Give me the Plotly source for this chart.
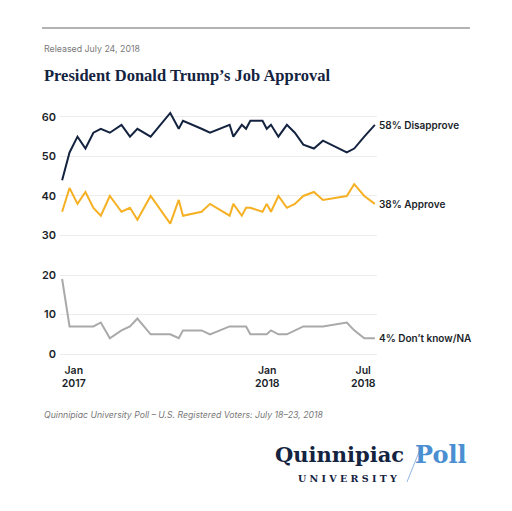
import plotly.graph_objects as go

# poll dates as placed on the chart's time axis
dates = [
    "2016-12-10", "2016-12-24", "2017-01-08", "2017-01-23", "2017-02-07",
    "2017-02-21", "2017-03-10", "2017-04-01", "2017-04-17", "2017-05-01",
    "2017-05-26", "2017-07-02", "2017-07-18", "2017-07-26", "2017-08-30",
    "2017-09-15", "2017-10-22", "2017-10-29", "2017-11-14", "2017-11-22",
    "2017-11-30", "2017-12-23", "2017-12-31", "2018-01-08", "2018-01-22",
    "2018-02-07", "2018-02-22", "2018-03-10", "2018-03-30", "2018-04-16",
    "2018-05-31", "2018-06-14", "2018-07-03", "2018-07-23",
]
disapprove = [44, 51, 55, 52, 56, 57, 56, 58, 55, 57, 55, 61, 57, 59, 57, 56, 58,
              55, 58, 57, 59, 59, 57, 58, 55, 58, 56, 53, 52, 54, 51, 52, 55, 58]
approve = [36, 42, 38, 41, 37, 35, 40, 36, 37, 34, 40, 33, 39, 35, 36, 38, 35,
           38, 35, 37, 37, 36, 38, 36, 40, 37, 38, 40, 41, 39, 40, 43, 40, 38]
dont_know = [19, 7, 7, 7, 7, 8, 4, 6, 7, 9, 5, 5, 4, 6, 6, 5, 7,
             7, 7, 7, 5, 5, 5, 6, 5, 5, 6, 7, 7, 7, 8, 6, 4, 4]

tick_dates = ["2017-01-01", "2018-01-01", "2018-07-01"]
tick_text = ["Jan<br>2017", "Jan<br>2018", "Jul<br>2018"]

NAVY = "#14233f"
GOLD = "#f6b023"
GREY = "#a9a9a9"

series = [
    ("58% Disapprove", disapprove, NAVY),
    ("38% Approve", approve, GOLD),
    ("4% Don\u2019t know/NA", dont_know, GREY),
]

fig = go.Figure()
for name, vals, color in series:
    fig.add_trace(go.Scatter(x=dates, y=vals, mode="lines", name=name,
                             line=dict(color=color, width=2), cliponaxis=False))

annotations = []
for name, vals, color in series:
    annotations.append(dict(x=dates[-1], y=vals[-1], xref="x", yref="y", text=name,
                            showarrow=False, xanchor="left", yanchor="middle", xshift=2,
                            font=dict(family="Inter", size=10, color="#1b1f2a", weight=600)))

annotations += [
    dict(text="Released July 24, 2018", x=-0.0568, y=1.241, xanchor="left", yanchor="middle",
         font=dict(family="Inter", size=8.8, color="#7a7a7a")),
    dict(text="President Donald Trump\u2019s Job Approval", x=-0.0568, y=1.134,
         xanchor="left", yanchor="middle",
         font=dict(family="Liberation Serif", size=16.5, color=NAVY, weight=600)),
    dict(text="<i>Quinnipiac University Poll \u2013 U.S. Registered Voters: July 18\u201323, 2018</i>",
         x=-0.0568, y=-0.2095, xanchor="left", yanchor="middle",
         font=dict(family="Inter", size=8.7, color="#777777")),
    dict(text="<b>Quinnipiac</b>", x=0.672, y=-0.367, xanchor="left", yanchor="middle",
         font=dict(family="DejaVu Serif", size=21, color=NAVY)),
    dict(text="<b>Poll</b>", x=1.112, y=-0.365, xanchor="left", yanchor="middle",
         font=dict(family="DejaVu Serif", size=24, color="#4b8fd2")),
    dict(text="<b>U N I V E R S I T Y</b>", x=0.745, y=-0.4585, xanchor="left", yanchor="middle",
         font=dict(family="DejaVu Serif", size=9.5, color=NAVY)),
]
for a in annotations:
    a.setdefault("xref", "paper")
    a.setdefault("yref", "paper")
    a.setdefault("showarrow", False)

# the page adds an 8px body margin, so the figure is drawn 8px smaller
fig.update_layout(
    width=504, height=503,
    margin=dict(l=52, r=135, t=101, b=149),
    paper_bgcolor="white", plot_bgcolor="white",
    showlegend=False,
    annotations=annotations,
    shapes=[
        dict(type="line", xref="paper", yref="paper", x0=-0.0568, x1=1.293, y0=1.320, y1=1.320,
             line=dict(color="#9a9a9a", width=1.5)),
        dict(type="line", xref="paper", yref="paper", x0=1.0946, y0=-0.474, x1=1.1388, y1=-0.336,
             line=dict(color="#8fb6e2", width=1)),
    ],
    xaxis=dict(type="date", range=["2016-12-06", "2018-07-27"], tickvals=tick_dates,
               ticktext=tick_text, showgrid=False, zeroline=False, showline=False, ticks="",
               tickfont=dict(family="Inter", size=10.5, color="#1b1f2a", weight=600)),
    yaxis=dict(range=[-2, 62], tickvals=[0, 10, 20, 30, 40, 50, 60], showgrid=True,
               gridcolor="#ececec", gridwidth=1, zeroline=False, showline=False, ticks="",
               ticklabelstandoff=3,
               tickfont=dict(family="Inter", size=11, color="#1b1f2a", weight=600)),
)

fig.write_html("out.html")
